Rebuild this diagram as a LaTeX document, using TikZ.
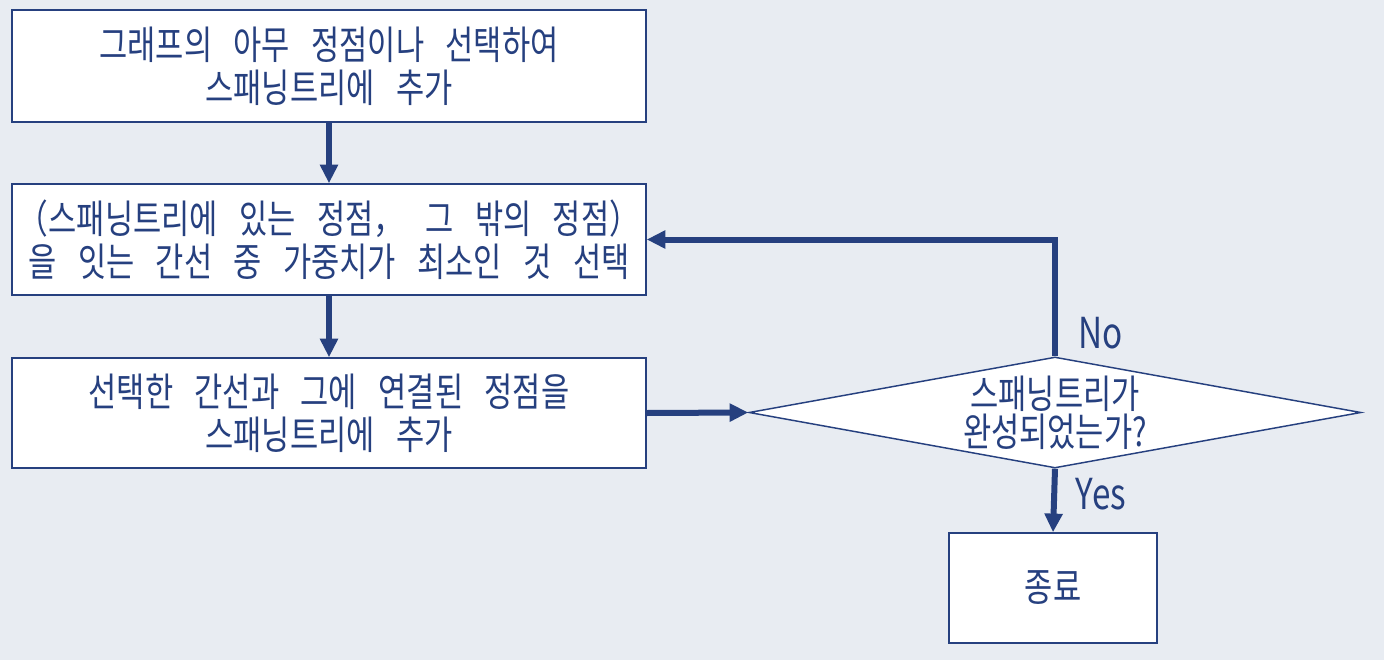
\documentclass[tikz,border=0pt]{standalone}
\usepackage{fontspec}
\setmainfont{Noto Sans CJK KR}[FakeStretch=0.78]
\usetikzlibrary{arrows.meta,shapes.geometric}
\definecolor{bg}{HTML}{E8ECF2}
\definecolor{ink}{HTML}{26407F}
\newcommand\krfont[1]{\fontsize{29.5pt}{#1}\selectfont\spaceskip=16pt plus 1pt\relax}
\tikzset{
  stepbox/.style={draw=ink,fill=white,line width=1.1pt,rectangle,inner sep=0pt,
    minimum width=634*0.75pt,align=center,text=ink,font=\krfont{32pt}},
  decide/.style={draw=ink,fill=white,line width=1.1pt,diamond,aspect=5.5,inner sep=0pt,
    minimum width=612*0.75pt,minimum height=111*0.75pt,align=center,text=ink,
    font=\krfont{28.5pt}},
  flow/.style={draw=ink,line width=4.5pt,-{Triangle[width=13pt,length=14pt]}},
  lab/.style={text=ink,font=\fontsize{32pt}{34pt}\selectfont,inner sep=0pt}}
\begin{document}
\begin{tikzpicture}[x=0.75pt,y=-0.75pt]
\fill[bg] (0,0) rectangle (1384,660);
\useasboundingbox (0,0) rectangle (1384,660);
\node[stepbox,minimum height=112*0.75pt] (b1) at (329,66) {그래프의 아무 정점이나 선택하여\\스패닝트리에 추가};
\node[stepbox,minimum height=111*0.75pt] (b2) at (329,239.5) {（스패닝트리에 있는 정점， 그 밖의 정점）\\을 잇는 간선 중 가중치가 최소인 것 선택};
\node[stepbox,minimum height=110*0.75pt] (b3) at (329,413) {선택한 간선과 그에 연결된 정점을\\스패닝트리에 추가};
\node[decide] (d) at (1055,412.5) {스패닝트리가\\완성되었는가?};
\node[stepbox,minimum width=208*0.75pt,minimum height=110*0.75pt] (e) at (1053,588) {종료};
\draw[flow] (b1.south) -- (b2.north);
\draw[flow] (b2.south) -- (b3.north);
\draw[flow] (b3.east) -- (d.west);
\draw[flow] (d.north) |- (b2.east);
\draw[flow] (d.south) -- (e.north);
\node[lab] (no) at (1101,333) {No};
\node[lab] (yes) at (1101,494) {Yes};
\end{tikzpicture}
\end{document}
